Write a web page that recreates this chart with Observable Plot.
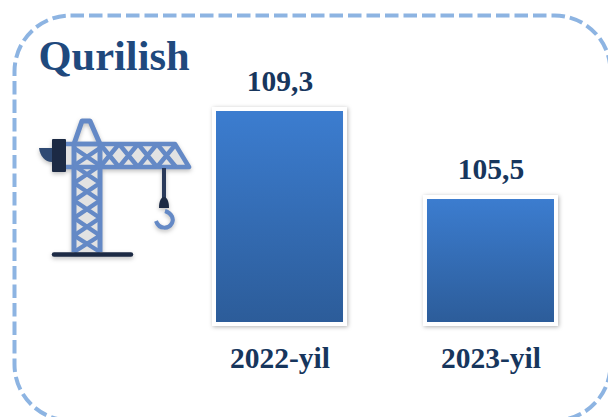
<!DOCTYPE html>
<html>
<head>
<meta charset="utf-8">
<script src="https://cdn.jsdelivr.net/npm/d3@7"></script>
<script src="https://cdn.jsdelivr.net/npm/@observablehq/plot@0.6"></script>
<style>html,body{margin:0;padding:0;background:#fff}</style>
</head>
<body>
<div id="chart"></div>
<script>
const years = ["2022-yil", "2023-yil"];
const values = [109.3, 105.5];
const valueLabels = ["109,3", "105,5"];
const axisFloor = 100.19;
const chartTitle = "Qurilish";

const rows = years.map((year, i) => ({year, value: values[i], label: valueLabels[i]}));
const serif = "'Liberation Serif','Times New Roman',serif";
const NS = "http://www.w3.org/2000/svg";

function gradientDefs() {
  const defs = document.createElementNS(NS, "defs");
  defs.innerHTML = `<linearGradient id="barFill" x1="0" y1="0" x2="0" y2="1">
    <stop offset="0" stop-color="#3c7dd0"/><stop offset="1" stop-color="#2c5c99"/></linearGradient>`;
  return defs;
}

function craneIcon() {
  const g = document.createElementNS(NS, "g");
  const blue = "#6489c6", dark = "#1c2a44";
  let lattice = "";
  const towerY = [148, 165.5, 183, 200.5, 218, 235.5, 252];
  for (let i = 0; i < towerY.length - 1; i++) {
    lattice += `M74 ${towerY[i]}L100 ${towerY[i + 1]}M100 ${towerY[i]}L74 ${towerY[i + 1]}`;
  }
  const jibX = [100, 119, 138, 157, 176];
  for (let i = 0; i < jibX.length - 1; i++) {
    lattice += `M${jibX[i]} 144L${jibX[i + 1]} 167M${jibX[i + 1]} 144L${jibX[i]} 167`;
  }
  g.innerHTML = `
    <g style="filter:blur(.5px) drop-shadow(0 2px 2px rgba(0,0,0,.25))">
    <path d="M74 144H175L189 167H66V144Z M74 148H100V252H74Z" fill="#e2e2e2"/>
    <path d="M74 252V144L82 121H90L100 144V252" fill="none" stroke="${blue}" stroke-width="5" stroke-linejoin="round"/>
    <path d="M66 144H175L189 167H66" fill="none" stroke="${blue}" stroke-width="4.5" stroke-linejoin="round"/>
    <path d="M74 144H100" fill="none" stroke="${blue}" stroke-width="4.5"/>
    <path d="${lattice}" fill="none" stroke="${blue}" stroke-width="4.4"/>
    <path d="M39 148H52V162C45 162 40 156 39 148Z" fill="#2f4a73"/>
    <rect x="52" y="139" width="14" height="33" rx="1" fill="${dark}"/>
    <path d="M164 168V198" stroke="#2a3a5a" stroke-width="4"/>
    <path d="M159 208C159 201 161 197 164 197C167 197 169 201 169 208Z" fill="${dark}"/>
    <path d="M165 211C172 213 174 219 172 223C169 229 159 230 156 221" fill="none" stroke="${blue}" stroke-width="4"/>
    <path d="M54 254.5H131" stroke="${dark}" stroke-width="4.5" stroke-linecap="round"/>
    </g>`;
  return g;
}

const plot = Plot.plot({
  width: 608,
  height: 417,
  marginTop: 15,
  marginLeft: 14,
  marginRight: 0,
  marginBottom: 95,
  style: {background: "#fff"},
  x: {domain: years, range: [216, 554], paddingInner: 0.398, paddingOuter: 0, round: false, axis: null, label: null},
  y: {domain: [axisFloor, 109.3], range: [322, 111], axis: null, label: null},
  marks: [
    gradientDefs,
    Plot.frame({
      stroke: "#8db4e2", strokeWidth: 4, strokeDasharray: "13.5,5",
      rx: 56, insetRight: -2, insetBottom: -98
    }),
    Plot.barY(rows, {
      x: "year", y1: () => axisFloor, y2: "value",
      insetLeft: -2, insetRight: -2, insetTop: -2, insetBottom: -2,
      fill: "url(#barFill)", stroke: "#fff", strokeWidth: 4,
      imageFilter: "drop-shadow(1.5px 1px 2px rgba(0,0,0,.3))"
    }),
    Plot.text(rows, {
      x: "year", y: "value", text: "label", dy: -30,
      fontFamily: serif, fontWeight: "bold", fontSize: 29.5, fill: "#17365d"
    }),
    Plot.axisX({
      anchor: "bottom", tickSize: 0, tickPadding: 25, label: null,
      fontFamily: serif, fontWeight: "bold", fontSize: 29.5, fill: "#17365d"
    }),
    Plot.text([chartTitle], {
      frameAnchor: "top-left", text: d => d, dx: 24, dy: 24, textAnchor: "start",
      fontFamily: serif, fontWeight: "bold", fontSize: 42.5, fill: "#1f497d"
    }),
    craneIcon
  ]
});
document.getElementById("chart").appendChild(plot);
</script>
</body>
</html>
